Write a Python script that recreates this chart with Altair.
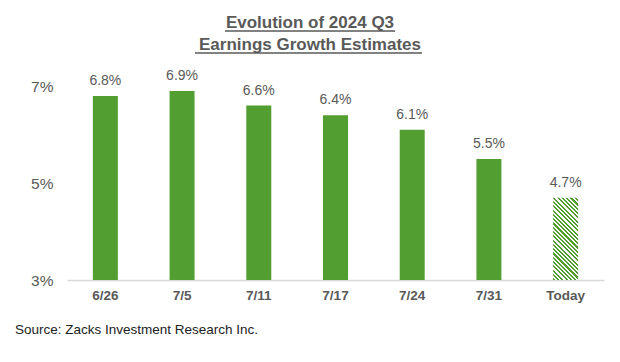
import altair as alt
import pandas as pd

dates = ["6/26", "7/5", "7/11", "7/17", "7/24", "7/31", "Today"]
values = [6.8, 6.9, 6.6, 6.4, 6.1, 5.5, 4.7]
y_ticks = [3, 5, 7]
title_lines = ["Evolution of 2024 Q3", " Earnings Growth Estimates"]
source_text = "Source: Zacks Investment Research Inc."

GREEN = "#529E30"
GRAY = "#595959"
FONT = "Liberation Sans"

W, H = 537, 218
Y_MIN, Y_MAX = 3, 7.5
BAR_W = 25

df = pd.DataFrame({"date": dates, "value": values})
df["label"] = [f"{v:.1f}%" for v in values]

# diagonal hatch for the "Today" bar, built as a hard-stop linear gradient
today_val = values[-1]
bar_h = (today_val - Y_MIN) * H / (Y_MAX - Y_MIN)
w, h = BAR_W, bar_h
a = (w + h) / (w * w + h * h)
gx, gy = a * w, -a * h
diag = (w + h) / 2 ** 0.5
n_periods = max(1, round(diag / 3.0))
stops = []
for i in range(n_periods):
    o0 = i / n_periods
    o1 = (i + 0.5) / n_periods
    o2 = (i + 1) / n_periods
    stops += [
        alt.GradientStop(color=GREEN, offset=o0),
        alt.GradientStop(color=GREEN, offset=o1),
        alt.GradientStop(color="#ffffff", offset=o1),
        alt.GradientStop(color="#ffffff", offset=o2),
    ]
hatch = alt.Gradient(gradient="linear", stops=stops, x1=0, y1=1, x2=gx, y2=1 + gy)

x_enc = alt.X(
    "date:N",
    sort=dates,
    scale=alt.Scale(paddingInner=0.675, paddingOuter=0.3375),
    axis=alt.Axis(
        title=None, labelAngle=0, ticks=False, domain=True, domainColor="#d9d9d9",
        domainWidth=1.5, labelFont=FONT, labelFontSize=13.5, labelFontWeight="bold",
        labelColor=GRAY, labelPadding=8, grid=False,
    ),
)
y_enc = alt.Y(
    "value:Q",
    scale=alt.Scale(domain=[Y_MIN, Y_MAX], zero=False, nice=False),
    axis=alt.Axis(
        title=None, values=y_ticks, labelExpr="datum.value + '%'", ticks=False,
        domain=False, grid=False, labelFont=FONT, labelFontSize=15.5, labelColor=GRAY,
        labelPadding=14,
    ),
)

base = alt.Chart(df)

solid = base.transform_filter(alt.datum.date != "Today").mark_bar(size=BAR_W, color=GREEN).encode(
    x=x_enc, y=y_enc, y2=alt.datum(Y_MIN)
)
hatched = base.transform_filter(alt.datum.date == "Today").mark_bar(size=BAR_W, color=hatch).encode(
    x=x_enc, y=y_enc, y2=alt.datum(Y_MIN)
)
labels = base.mark_text(
    baseline="bottom", dy=-8, font=FONT, fontSize=14, color=GRAY
).encode(x=x_enc, y=y_enc, text="label:N")

t1 = alt.Chart(pd.DataFrame({"t": [title_lines[0]]})).mark_text(
    font=FONT, fontSize=17, fontWeight="bold", color=GRAY, baseline="alphabetic", align="center"
).encode(text="t:N", x=alt.value(243), y=alt.value(-34))
t2 = alt.Chart(pd.DataFrame({"t": [title_lines[1]]})).mark_text(
    font=FONT, fontSize=17, fontWeight="bold", color=GRAY, baseline="alphabetic", align="center"
).encode(text="t:N", x=alt.value(243), y=alt.value(-12))
u1 = alt.Chart(pd.DataFrame({"k": [1]})).mark_rule(color=GRAY, strokeWidth=1.5).encode(
    x=alt.value(158), x2=alt.value(328), y=alt.value(-31)
)
u2 = alt.Chart(pd.DataFrame({"k": [1]})).mark_rule(color=GRAY, strokeWidth=1.5).encode(
    x=alt.value(128), x2=alt.value(355), y=alt.value(-9)
)
src = alt.Chart(pd.DataFrame({"t": [source_text]})).mark_text(
    font=FONT, fontSize=13.5, color="#222222", align="left", baseline="middle"
).encode(text="t:N", x=alt.value(-52), y=alt.value(268))

chart = alt.layer(solid, hatched, labels, t1, t2, u1, u2, src).properties(
    width=W, height=H,
    background="white",
    autosize=alt.AutoSizeParams(type="none"),
    padding={"left": 59, "top": 54, "right": 8, "bottom": 74},
).configure_view(strokeWidth=0, stroke=None)

chart.save("out.html", embed_options={"renderer": "svg", "actions": False})
